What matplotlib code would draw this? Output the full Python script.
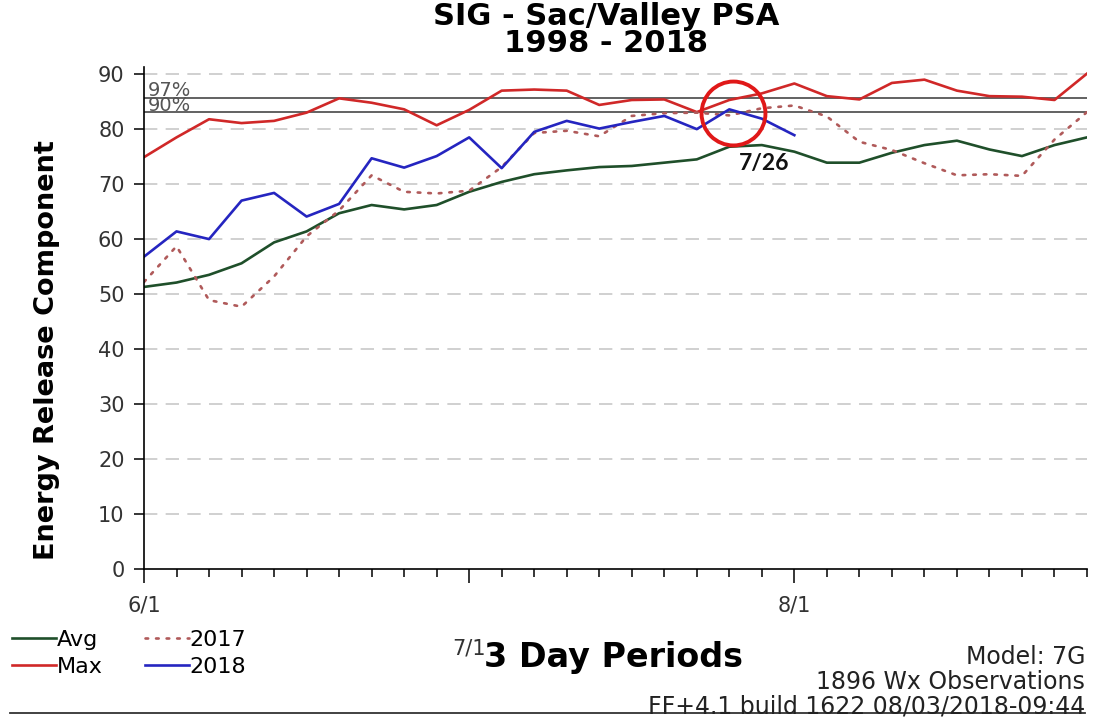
import matplotlib
matplotlib.use("Agg")
import matplotlib.pyplot as plt
from matplotlib.lines import Line2D
import numpy as np

# 3 day periods starting 6/1
period_ticks = [0, 10, 20]
period_labels = ["6/1", "7/1", "8/1"]

avg_vals = [51.3, 52.1, 53.5, 55.6, 59.4, 61.4, 64.7, 66.2, 65.4, 66.2,
            68.6, 70.4, 71.8, 72.5, 73.1, 73.3, 73.9, 74.5, 76.8, 77.1,
            75.9, 73.9, 73.9, 75.7, 77.1, 77.9, 76.3, 75.1, 77.1, 78.5]
max_vals = [74.9, 78.5, 81.8, 81.1, 81.5, 83.0, 85.6, 84.8, 83.6, 80.7,
            83.5, 87.0, 87.2, 87.0, 84.4, 85.3, 85.4, 83.1, 85.3, 86.5,
            88.3, 86.0, 85.4, 88.4, 89.0, 87.0, 86.0, 85.9, 85.3, 90.1]
vals_2017 = [52.2, 58.7, 48.9, 47.7, 53.2, 60.5, 65.2, 71.6, 68.6, 68.3,
             68.8, 73.1, 79.3, 79.7, 78.7, 82.4, 82.9, 83.0, 82.5, 83.8,
             84.3, 82.3, 77.7, 76.2, 73.8, 71.6, 71.8, 71.5, 78.1, 83.1]
vals_2018 = [56.8, 61.4, 60.0, 67.0, 68.4, 64.1, 66.4, 74.7, 73.0, 75.1,
             78.5, 72.9, 79.5, 81.5, 80.1, 81.3, 82.4, 80.0, 83.6, 81.9,
             78.9]

pct_values = [85.7, 83.2]
pct_labels = ["97%", "90%"]

# highlighted point (7/26)
mark_x, mark_y = 18.1, 82.9
mark_label = "7/26"
mark_label_pos = (19.07, 73.8)

x_all = np.arange(len(avg_vals))
x_2018 = np.arange(len(vals_2018))

W, H = 1094, 717
fig = plt.figure(figsize=(W / 100, H / 100), dpi=100)
ax = fig.add_axes([144 / W, 1 - 569 / H, (1087 - 144) / W, (569 - 67) / H])

ax.set_xlim(0, len(avg_vals) - 1)
ax.set_ylim(0, 91.3)

# dashed horizontal grid
for v in range(10, 100, 10):
    ax.axhline(v, color="#c8c8c8", lw=1.2, ls=(0, (8, 5)), zorder=1)

for v in pct_values:
    ax.axhline(v, color="#555555", lw=1.3, zorder=2)
# both labels in one text block, each line sitting on its own line
ax.text(0.12, pct_values[-1] + 0.15, "\n".join(pct_labels), fontsize=14,
        color="#555555", va="baseline", ha="left", linespacing=0.72,
        zorder=2)

ax.plot(x_all, avg_vals, color="#1f4f2a", lw=1.9, label="Avg", zorder=3)
ax.plot(x_all, max_vals, color="#d02828", lw=1.9, label="Max", zorder=3)
ax.plot(x_all, vals_2017, color="#b05a5a", lw=1.9, ls=(0, (1, 3)),
        dash_capstyle="round", label="2017", zorder=3)
ax.plot(x_2018, vals_2018, color="#2525c0", lw=1.9, label="2018", zorder=4)

ax.plot([mark_x], [mark_y], "o", ms=46, mfc="none", mec="#e01818",
        mew=2.8, zorder=5)
ax.text(*mark_label_pos, mark_label, fontsize=16.5, fontweight="bold",
        family="Lato", ha="center", va="center", color="#111111")

# axes styling
for side in ("top", "right"):
    ax.spines[side].set_visible(False)
for side in ("left", "bottom"):
    ax.spines[side].set_linewidth(1.2)
    ax.spines[side].set_zorder(6)

ax.set_yticks(range(0, 100, 10))
ax.tick_params(axis="y", direction="out", length=7, width=1.1, pad=7,
               labelsize=15, labelcolor="#333333")
ax.set_xticks(period_ticks)
ax.set_xticklabels(period_labels)
ax.set_xticks([i for i in x_all if i not in period_ticks], minor=True)
ax.tick_params(axis="x", which="major", direction="out", length=10,
               width=1.1, pad=9, labelsize=15, labelcolor="#333333")
ax.tick_params(axis="x", which="minor", direction="out", length=6, width=1.1)
# 7/1 label sits lower, like the original
ax.xaxis.get_major_ticks()[1].set_pad(40)

fig.text(606 / W, 1 - 30 / H, "SIG - Sac/Valley PSA\n1998 - 2018",
         fontsize=22, fontweight="bold", ha="center", va="center",
         multialignment="center", linespacing=0.92)
fig.text(47 / W, 1 - 350 / H, "Energy Release Component", fontsize=19.5,
         fontweight="bold", rotation=90, ha="center", va="center")
fig.text(613 / W, 1 - 658 / H, "3 Day Periods", fontsize=24,
         fontweight="bold", ha="center", va="center")

info_lines = ["Model: 7G", "1896 Wx Observations",
              "FF+4.1 build 1622 08/03/2018-09:44"]
for k, line in enumerate(info_lines):
    fig.text(1085 / W, 1 - (657 + 25 * k) / H, line, fontsize=17,
             ha="right", va="center", color="#222222")

fig.legend(loc="upper left", bbox_to_anchor=(12 / W, 1 - 630 / H),
           ncol=2, frameon=False, fontsize=16, handlelength=2.0,
           handletextpad=0.0, labelspacing=0.3, columnspacing=1.9,
           borderpad=0, borderaxespad=0)

fig.add_artist(Line2D([10 / W, 1085 / W], [1 - 713 / H, 1 - 713 / H],
                      color="#333333", lw=1.3))

fig.savefig("out.png", dpi=100)
